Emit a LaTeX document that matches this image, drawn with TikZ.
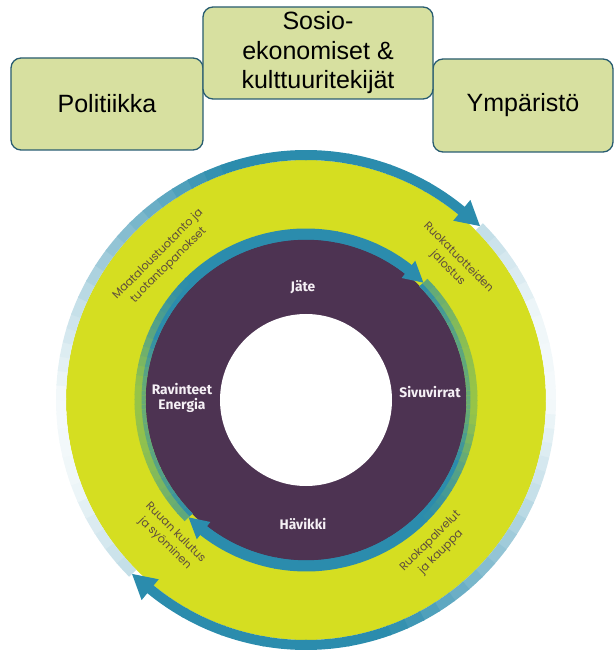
\documentclass[tikz,border=0pt]{standalone}
\usepackage{fontspec}
\setmainfont{Liberation Sans}
\newfontfamily\ringfont{Poppins}
\newfontfamily\labfont{Fira Sans}
\definecolor{boxfill}{RGB}{215,224,160}
\definecolor{boxline}{RGB}{40,92,112}
\definecolor{ringyellow}{RGB}{213,222,33}
\definecolor{discpurple}{RGB}{77,51,82}
\definecolor{flowteal}{RGB}{43,140,173}
\definecolor{flowgreen}{RGB}{150,196,72}
\definecolor{ringtext}{RGB}{95,78,60}
\definecolor{labwhite}{RGB}{245,240,245}
\begin{document}
\begin{tikzpicture}[x=1pt,y=1pt,
  factorbox/.style={draw=boxline, line width=1.3pt, fill=boxfill, rounded corners=10pt, inner sep=0pt, align=center, font=\fontsize{25}{29.5}\selectfont},
  ringlabel/.style={font=\ringfont\fontsize{11.3}{15}\selectfont, text=ringtext, align=center, inner sep=0pt},
  disclabel/.style={font=\labfont\bfseries\fontsize{13.8}{15.5}\selectfont, text=labwhite, align=center, inner sep=0pt}]
\useasboundingbox (-306,-250) rectangle (309,400);

% factor boxes
\node[factorbox, minimum width=192pt, minimum height=92pt] (politiikka) at (-199,296) {Politiikka};
\node[factorbox, minimum width=180pt, minimum height=93pt] (ymparisto) at (217,294.5) {Ympäristö};
\node[factorbox, minimum width=230pt, minimum height=92pt] (sosio) at (12,347) {Sosio-\\ekonomiset \&\\kulttuuritekijät};

% circle
\coordinate (c) at (0,0);
\fill[ringyellow] (c) circle[radius=240];

% outer flow band
\foreach \off in {0,180}{
  \foreach \sa/\ea/\pa/\pb in {225/200/30/8, 200/180/8/5, 180/160/5/25, 160/135/25/60, 135/110/60/100, 110/50.6/100/100}{
    \foreach \i in {0,...,5}{
      \pgfmathsetmacro\s{\sa-\off+(\ea-\sa)*\i/6}
      \pgfmathsetmacro\e{\sa-\off+(\ea-\sa)*(\i+1)/6-0.4}
      \pgfmathtruncatemacro\p{\pa+(\pb-\pa)*(\i+0.5)/6}
      \draw[line width=10pt, flowteal!\p!white] (\s:245) arc[start angle=\s, end angle=\e, radius=245];
    }
  }
  \fill[flowteal] (50.6-\off:232) -- (45-\off:246) -- (50.6-\off:259) -- cycle;
}

% purple disc
\fill[discpurple] (c) circle[radius=161];

% inner flow band
\foreach \off in {0,180}{
  \foreach \sa/\ea/\pa/\pb in {225/205/55/15, 205/185/15/0, 185/175/0/0, 175/155/0/60, 155/135/60/100, 135/51.9/100/100}{
    \foreach \i in {0,...,5}{
      \pgfmathsetmacro\s{\sa-\off+(\ea-\sa)*\i/6}
      \pgfmathsetmacro\e{\sa-\off+(\ea-\sa)*(\i+1)/6-0.4}
      \pgfmathtruncatemacro\p{\pa+(\pb-\pa)*(\i+0.5)/6}
      \pgfmathtruncatemacro\q{min(100,\p+45)}
      \draw[line width=11pt, flowteal!\p!flowgreen] (\s:166) arc[start angle=\s, end angle=\e, radius=166];
      \draw[line width=4pt, flowteal!\q!flowgreen] (\s:162.5) arc[start angle=\s, end angle=\e, radius=162.5];
    }
  }
  \fill[flowteal] (51.9-\off:155) -- (45-\off:166) -- (51.9-\off:177) -- cycle;
}

% white centre
\fill[white] (c) circle[radius=86];

% ring labels
\node[ringlabel, rotate=45] (maatalous) at (135.5:200) {Maataloustuotanto ja\\tuotantopanokset};
\node[ringlabel, rotate=-45] (jalostus) at (43:201) {Ruokatuotteiden\\jalostus};
\node[ringlabel, rotate=-45] (kulutus) at (225.5:194) {Ruuan kulutus\\ja syöminen};
\node[ringlabel, rotate=45] (kauppa) at (-48.5:196) {Ruokapalvelut\\ja kauppa};

% disc labels
\node[disclabel] (jate) at (-3,113) {Jäte};
\node[disclabel] (sivuvirrat) at (124,8) {Sivuvirrat};
\node[disclabel] (ravinteet) at (-124,2) {Ravinteet\\Energia};
\node[disclabel] (havikki) at (-3,-124) {Hävikki};
\end{tikzpicture}
\end{document}
